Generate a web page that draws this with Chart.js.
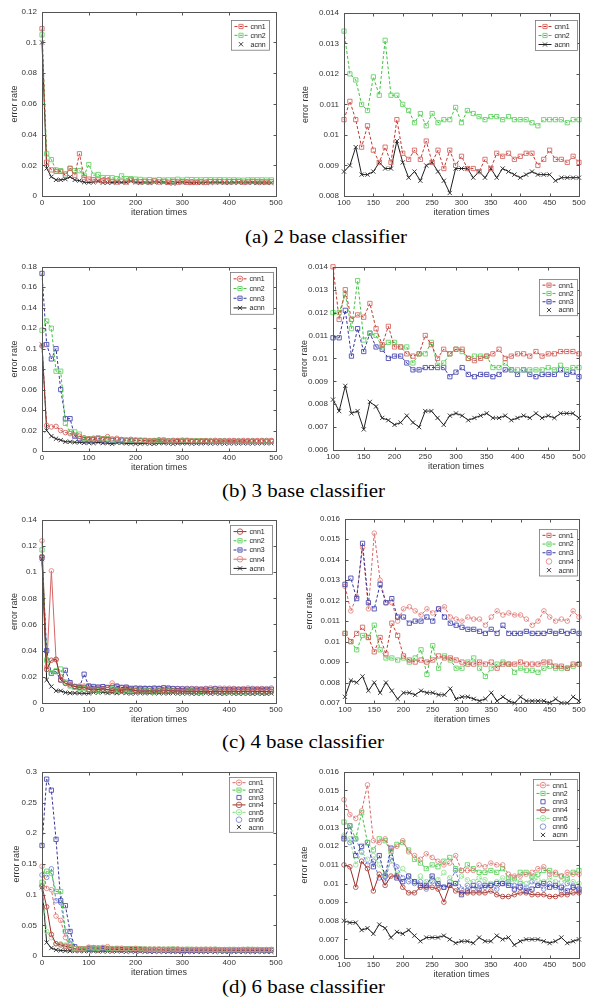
<!DOCTYPE html>
<html><head><meta charset="utf-8">
<script src="https://cdn.jsdelivr.net/npm/chart.js@4.4.0/dist/chart.umd.min.js"></script>
<style>
html,body{margin:0;padding:0;background:#fff;width:589px;height:1006px;overflow:hidden;position:relative;}
canvas{position:absolute;}
.cap{position:absolute;font-family:'Liberation Serif','Times New Roman',serif;font-size:19px;line-height:19px;white-space:nowrap;transform:scaleX(1.1);transform-origin:0 0;color:#000;}
</style></head><body>
<div class="cap" style="left:245px;top:227px">(a) 2 base classifier</div>
<div class="cap" style="left:222px;top:481px">(b) 3 base classifier</div>
<div class="cap" style="left:222px;top:732px">(c) 4 base classifier</div>
<div class="cap" style="left:222px;top:977px">(d) 6 base classifier</div>
<script>
// ---------- DATA ----------
const itersLeft = [0,10,20,30,40,50,60,70,80,90,100,110,120,130,140,150,160,170,180,190,200,210,220,230,240,250,260,270,280,290,300,310,320,330,340,350,360,370,380,390,400,410,420,430,440,450,460,470,480,490];
const itersRight = [100,110,120,130,140,150,160,170,180,190,200,210,220,230,240,250,260,270,280,290,300,310,320,330,340,350,360,370,380,390,400,410,420,430,440,450,460,470,480,490,500];

// (a) 2 base classifier — early iterations 0..140 (left plot)
const a_cnn1_early = [0.109,0.022,0.017,0.016,0.016,0.0135,0.018,0.0135,0.0275,0.012,0.011,0.0105,0.0105,0.010,0.0100];
const a_cnn2_early = [0.105,0.0275,0.0237,0.017,0.0165,0.0145,0.018,0.0165,0.0165,0.0135,0.0205,0.0135,0.014,0.012,0.012];
const a_acnn_early = [0.1,0.018,0.0125,0.0105,0.0105,0.011,0.0125,0.0105,0.010,0.009,0.0088,0.009,0.0096,0.0087,0.0087];
// (a) iterations 100..500 (right plot)
const a_cnn1 = [0.0105,0.0111,0.0105,0.0096,0.0103,0.0095,0.0091,0.0096,0.0091,0.0105,0.0094,0.0092,0.0095,0.0092,0.0098,0.0091,0.0095,0.0089,0.0095,0.0090,0.0093,0.0089,0.0089,0.0088,0.0092,0.0089,0.0094,0.0093,0.0094,0.0092,0.0093,0.0094,0.0094,0.0090,0.0092,0.0095,0.0092,0.0092,0.0091,0.0093,0.0091];
const a_cnn2 = [0.0134,0.0120,0.0118,0.0110,0.0108,0.0119,0.0113,0.0131,0.0113,0.0113,0.0110,0.0108,0.0104,0.0107,0.0103,0.0107,0.0104,0.0105,0.0105,0.0109,0.0104,0.0108,0.0107,0.0106,0.0105,0.0106,0.0106,0.0105,0.0106,0.0105,0.0105,0.0105,0.0104,0.0103,0.0105,0.0105,0.0105,0.0105,0.0104,0.0105,0.0105];
const a_acnn = [0.0088,0.0090,0.0096,0.0087,0.0087,0.0088,0.0091,0.0089,0.0089,0.0098,0.0091,0.0086,0.0088,0.0085,0.0090,0.0091,0.0088,0.0085,0.0081,0.0089,0.0089,0.0089,0.0086,0.0088,0.0086,0.0089,0.0086,0.0089,0.0088,0.0087,0.0086,0.0087,0.0088,0.0087,0.0087,0.0087,0.0085,0.0086,0.0086,0.0086,0.0086];

// (b) 3 base classifier
const b_cnn1_early = [0.1026,0.025,0.0235,0.024,0.020,0.018,0.017,0.0155,0.0145,0.013,0.012,0.0125,0.012,0.012,0.014];
const b_cnn2_early = [0.118,0.127,0.12,0.078,0.078,0.027,0.0187,0.0187,0.0165,0.012,0.012,0.012,0.013,0.012,0.012];
const b_cnn3_early = [0.1735,0.104,0.09,0.1,0.06,0.0316,0.0316,0.0145,0.012,0.011,0.011,0.011,0.012,0.011,0.011];
const b_acnn_early = [0.104,0.020,0.0145,0.012,0.0106,0.009,0.009,0.0085,0.0085,0.008,0.008,0.0078,0.0085,0.0077,0.0077];
const b_cnn1 = [0.0140,0.0117,0.0130,0.0117,0.0119,0.0118,0.0124,0.0113,0.0106,0.0114,0.0105,0.0105,0.0102,0.0101,0.0102,0.0110,0.0106,0.0100,0.0104,0.0102,0.0104,0.0104,0.0100,0.0099,0.0100,0.0101,0.0102,0.0104,0.0100,0.0101,0.0102,0.0102,0.0101,0.0103,0.0101,0.0102,0.0102,0.0103,0.0103,0.0103,0.0102];
const b_cnn2 = [0.0120,0.0120,0.0128,0.0113,0.0134,0.0108,0.0111,0.0110,0.0105,0.0107,0.0107,0.0105,0.0105,0.0098,0.0102,0.0102,0.0107,0.0097,0.0098,0.0102,0.0104,0.0103,0.0100,0.0101,0.0101,0.0101,0.0096,0.0096,0.0098,0.0095,0.0095,0.0095,0.0095,0.0095,0.0095,0.0096,0.0095,0.0097,0.0095,0.0096,0.0096];
const b_cnn3 = [0.0109,0.0109,0.0121,0.0101,0.0113,0.0103,0.0111,0.0105,0.0104,0.0100,0.0101,0.0101,0.0098,0.0095,0.0095,0.0096,0.0096,0.0096,0.0096,0.0092,0.0094,0.0096,0.0093,0.0092,0.0093,0.0093,0.0092,0.0093,0.0095,0.0095,0.0093,0.0095,0.0093,0.0092,0.0093,0.0093,0.0093,0.0095,0.0093,0.0094,0.0092];
const b_acnn = [0.0082,0.0077,0.0088,0.0076,0.0077,0.0069,0.0081,0.0079,0.0074,0.0073,0.0071,0.0072,0.0075,0.0072,0.0070,0.0077,0.0077,0.0074,0.0071,0.0075,0.0076,0.0075,0.0073,0.0074,0.0075,0.0076,0.0074,0.0074,0.0075,0.0073,0.0074,0.0075,0.0074,0.0076,0.0074,0.0075,0.0074,0.0076,0.0076,0.0076,0.0074];

// (c) 4 base classifier
const c_cnn1_early = [0.112,0.0256,0.0327,0.0334,0.0176,0.015,0.0138,0.0126,0.012,0.012,0.0104,0.0100,0.0104,0.0107,0.0102];
const c_cnn2_early = [0.117,0.0327,0.023,0.0246,0.026,0.016,0.013,0.012,0.011,0.011,0.0104,0.0100,0.0096,0.0103,0.0102];
const c_cnn3_early = [0.111,0.040,0.0226,0.024,0.0176,0.025,0.0156,0.0126,0.012,0.022,0.013,0.0126,0.0121,0.0125,0.0119];
const c_cnn4_early = [0.124,0.0276,0.101,0.033,0.020,0.015,0.015,0.0126,0.013,0.013,0.0127,0.0115,0.0121,0.0125,0.0116];
const c_acnn_early = [0.110,0.0176,0.0126,0.0093,0.0093,0.008,0.0076,0.0076,0.0075,0.0074,0.0073,0.0081,0.0080,0.0083,0.0076];
const c_cnn1 = [0.0104,0.0100,0.0104,0.0107,0.0102,0.0095,0.0102,0.0094,0.0109,0.0103,0.0093,0.0091,0.0090,0.0091,0.0090,0.0091,0.0093,0.0092,0.0092,0.0091,0.0090,0.0089,0.0089,0.0090,0.0089,0.0090,0.0087,0.0089,0.0089,0.0089,0.0090,0.0089,0.0089,0.0089,0.0090,0.0090,0.0088,0.0088,0.0087,0.0089,0.0089];
const c_cnn2 = [0.0104,0.0100,0.0096,0.0103,0.0102,0.0108,0.0096,0.0092,0.0092,0.0091,0.0092,0.0090,0.0092,0.0096,0.0084,0.0098,0.0087,0.0093,0.0091,0.0087,0.0087,0.0090,0.0092,0.0087,0.0083,0.0087,0.0089,0.0090,0.0089,0.0085,0.0087,0.0086,0.0086,0.0085,0.0087,0.0088,0.0087,0.0087,0.0087,0.0088,0.0089];
const c_cnn3 = [0.0128,0.0131,0.0121,0.0148,0.0119,0.0116,0.0128,0.0119,0.0121,0.0112,0.0112,0.0109,0.0110,0.0110,0.0112,0.0110,0.0116,0.0112,0.0109,0.0108,0.0107,0.0106,0.0106,0.0105,0.0104,0.0106,0.0104,0.0108,0.0104,0.0104,0.0104,0.0105,0.0104,0.0104,0.0104,0.0105,0.0104,0.0105,0.0104,0.0105,0.0104];
const c_cnn4 = [0.0127,0.0115,0.0122,0.0146,0.0116,0.0153,0.0130,0.0119,0.0119,0.0110,0.0116,0.0117,0.0115,0.0113,0.0116,0.0114,0.0116,0.0117,0.0112,0.0111,0.0110,0.0112,0.0111,0.0111,0.0108,0.0112,0.0115,0.0113,0.0114,0.0113,0.0113,0.0111,0.0108,0.0110,0.0115,0.0112,0.0110,0.0111,0.0110,0.0115,0.0112];
const c_acnn = [0.0073,0.0081,0.0080,0.0083,0.0076,0.0080,0.0075,0.0080,0.0076,0.0072,0.0075,0.0075,0.0074,0.0076,0.0075,0.0075,0.0074,0.0074,0.0077,0.0072,0.0073,0.0073,0.0072,0.0071,0.0072,0.0075,0.0071,0.0073,0.0071,0.0070,0.0073,0.0071,0.0071,0.0071,0.0071,0.0070,0.0072,0.0070,0.0070,0.0073,0.0071];

// (d) 6 base classifier
const d_cnn1_early = [0.146,0.11,0.108,0.065,0.058,0.03,0.015,0.012,0.012,0.012,0.0145,0.0137,0.0135,0.0139,0.0153];
const d_cnn2_early = [0.12,0.138,0.135,0.105,0.105,0.04,0.02,0.012,0.012,0.012,0.0133,0.0131,0.0124,0.0138,0.0122];
const d_cnn3_early = [0.18,0.288,0.27,0.19,0.09,0.082,0.04,0.015,0.012,0.012,0.0124,0.0131,0.0115,0.0120,0.0122];
const d_cnn4_early = [0.114,0.08,0.035,0.02,0.018,0.016,0.014,0.012,0.011,0.011,0.011,0.0109,0.0096,0.0112,0.0108];
const d_cnn5_early = [0.115,0.04,0.03,0.02,0.02,0.018,0.015,0.012,0.011,0.011,0.0126,0.0124,0.011,0.0117,0.0113];
const d_cnn6_early = [0.132,0.128,0.142,0.09,0.087,0.04,0.025,0.012,0.011,0.011,0.0125,0.0122,0.0124,0.0117,0.011];
const d_acnn_early = [0.112,0.022,0.013,0.01,0.009,0.0085,0.0082,0.008,0.008,0.008,0.0080,0.0079,0.0079,0.0075,0.0076];
const d_cnn1 = [0.0145,0.0137,0.0135,0.0139,0.0153,0.0123,0.0122,0.0124,0.0118,0.0120,0.0123,0.0117,0.0115,0.0113,0.0116,0.0114,0.0112,0.0110,0.0111,0.0115,0.0107,0.0107,0.0107,0.0110,0.0109,0.0111,0.0110,0.0110,0.0105,0.0104,0.0104,0.0105,0.0106,0.0108,0.0109,0.0105,0.0106,0.0104,0.0106,0.0105,0.0105];
const d_cnn2 = [0.0133,0.0131,0.0124,0.0138,0.0122,0.0118,0.0124,0.0123,0.0117,0.0121,0.0122,0.0118,0.0113,0.0111,0.0108,0.0110,0.0109,0.0112,0.0114,0.0108,0.0107,0.0110,0.0108,0.0106,0.0106,0.0107,0.0106,0.0108,0.0103,0.0103,0.0106,0.0106,0.0104,0.0105,0.0107,0.0107,0.0105,0.0104,0.0103,0.0106,0.0107];
const d_cnn3 = [0.0124,0.0131,0.0115,0.0120,0.0122,0.0109,0.0115,0.0104,0.0119,0.0103,0.0101,0.0104,0.0101,0.0099,0.0099,0.0104,0.0100,0.0098,0.0099,0.0100,0.0094,0.0096,0.0099,0.0097,0.0099,0.0099,0.0100,0.0100,0.0099,0.0097,0.0098,0.0096,0.0097,0.0099,0.0100,0.0098,0.0099,0.0098,0.0096,0.0098,0.0097];
const d_cnn4 = [0.0110,0.0109,0.0098,0.0112,0.0108,0.0096,0.0105,0.0099,0.0104,0.0104,0.0098,0.0095,0.0095,0.0098,0.0098,0.0098,0.0097,0.0090,0.0099,0.0096,0.0095,0.0095,0.0095,0.0095,0.0095,0.0096,0.0094,0.0093,0.0093,0.0094,0.0095,0.0095,0.0094,0.0094,0.0094,0.0093,0.0093,0.0094,0.0094,0.0095,0.0095];
const d_cnn5 = [0.0126,0.0124,0.0110,0.0117,0.0113,0.0115,0.0110,0.0105,0.0112,0.0105,0.0108,0.0104,0.0101,0.0104,0.0101,0.0103,0.0102,0.0106,0.0103,0.0100,0.0104,0.0102,0.0101,0.0103,0.0102,0.0100,0.0101,0.0103,0.0100,0.0102,0.0101,0.0100,0.0103,0.0102,0.0101,0.0103,0.0101,0.0101,0.0102,0.0101,0.0100];
const d_cnn6 = [0.0125,0.0122,0.0124,0.0117,0.0110,0.0112,0.0103,0.0101,0.0114,0.0109,0.0103,0.0101,0.0100,0.0101,0.0097,0.0101,0.0099,0.0098,0.0101,0.0107,0.0097,0.0099,0.0097,0.0100,0.0098,0.0099,0.0097,0.0100,0.0101,0.0099,0.0100,0.0098,0.0101,0.0099,0.0097,0.0100,0.0098,0.0096,0.0100,0.0099,0.0096];
const d_acnn = [0.0080,0.0079,0.0079,0.0075,0.0076,0.0073,0.0078,0.0076,0.0071,0.0074,0.0073,0.0075,0.0072,0.0069,0.0071,0.0071,0.0071,0.0072,0.0070,0.0068,0.0069,0.0069,0.0068,0.0071,0.0069,0.0069,0.0072,0.0070,0.0071,0.0067,0.0069,0.0070,0.0070,0.0070,0.0069,0.0068,0.0069,0.0071,0.0068,0.0069,0.0070];

// axis tick ranges
const yLeftA = [0, 0.12, 0.02],  yRightA = [0.008, 0.014, 0.001];
const yLeftB = [0, 0.18, 0.02],  yRightB = [0.006, 0.014, 0.001];
const yLeftC = [0, 0.14, 0.02],  yRightC = [0.007, 0.016, 0.001];
const yLeftD = [0, 0.3, 0.05],   yRightD = [0.006, 0.016, 0.001];
const xLeftTicks = [0, 500, 100], xRightTicks = [100, 500, 50];

// ---------- STYLES ----------
const RED  = {line:'#c0392f', mark:'#d86a66'};
const PINK = {line:'#d86464', mark:'#e58a86'};
const DRED = {line:'#9e2b26', mark:'#b6504a'};
const GRN  = {line:'#3fc23f', mark:'#66d466'};
const LGRN = {line:'#7fdc7f', mark:'#95e495'};
const BLU  = {line:'#34349e', mark:'#4d4db6'};
const LBLU = {line:'#6478d0', mark:'#7d8cd8'};
const BLK  = {line:'#1e1e1e', mark:'#2a2a2a'};
function sty(c, shape, dash, legendLine){ return Object.assign({shape, dash, legendLine}, c); }
const D = [3,2];

// ---------- HELPERS ----------
function pts(xs, ys){ return ys.map((v,i)=>({x:xs[i], y:v})); }
function leftSeries(early, late){ return early.concat(late.slice(5, 40)); }

function drawMark(ctx, shape, x, y, r){
  ctx.beginPath();
  if(shape==='circle'){ ctx.arc(x,y,r,0,Math.PI*2); }
  else if(shape==='rect'){ const s=r*0.75; ctx.rect(x-s,y-s,2*s,2*s); }
  else { const s=r*0.75; ctx.moveTo(x-s,y-s); ctx.lineTo(x+s,y+s); ctx.moveTo(x+s,y-s); ctx.lineTo(x-s,y+s); }
  ctx.stroke();
}

const framePlugin = {
  id:'framePlugin',
  afterDraw(chart){
    const {ctx, chartArea:a} = chart;
    const xs = chart.scales.x, ys = chart.scales.y;
    ctx.save();
    ctx.strokeStyle = '#555'; ctx.lineWidth = 1; ctx.setLineDash([]);
    const L=Math.round(a.left)+0.5, T=Math.round(a.top)+0.5, R=Math.round(a.right)+0.5, B=Math.round(a.bottom)+0.5;
    ctx.strokeRect(L, T, R-L, B-T);
    ctx.beginPath();
    xs.ticks.forEach(t=>{ const p=Math.round(xs.getPixelForValue(t.value))+0.5; ctx.moveTo(p,B); ctx.lineTo(p,B-3); ctx.moveTo(p,T); ctx.lineTo(p,T+3); });
    ys.ticks.forEach(t=>{ const p=Math.round(ys.getPixelForValue(t.value))+0.5; ctx.moveTo(L,p); ctx.lineTo(L+3,p); ctx.moveTo(R,p); ctx.lineTo(R-3,p); });
    ctx.stroke();
    // legend box
    const lg = chart.options.plugins.framePlugin;
    const n = chart.data.datasets.length;
    const bw = lg.w, bh = lg.rh*n + 3;
    const bx = Math.round(a.right - lg.r - bw)+0.5, by = Math.round(a.top + lg.t)+0.5;
    ctx.fillStyle = '#fff'; ctx.fillRect(bx, by, bw, bh);
    ctx.strokeStyle = '#777'; ctx.lineWidth = 0.8; ctx.strokeRect(bx, by, bw, bh);
    ctx.font = '7px "Liberation Sans", Arial, sans-serif';
    ctx.textBaseline = 'middle'; ctx.textAlign = 'left';
    chart.data.datasets.forEach((ds,i)=>{
      const st = ds._sty;
      const y = by + 1.5 + lg.rh*(i+0.5);
      const x0 = bx + 3, x1 = bx + 16, xm = (x0+x1)/2;
      ctx.lineWidth = 1;
      if(st.legendLine){
        ctx.strokeStyle = st.line; ctx.setLineDash(st.dash);
        ctx.beginPath(); ctx.moveTo(x0,y); ctx.lineTo(x1,y); ctx.stroke();
      }
      ctx.setLineDash([]); ctx.strokeStyle = st.mark; ctx.lineWidth = 0.9;
      drawMark(ctx, st.shape, xm, y, 2.8);
      ctx.fillStyle = '#222';
      ctx.fillText(ds.label, x1 + 3, y + 0.5);
    });
    ctx.restore();
  }
};

function fmt(v){ return String(parseFloat(Number(v).toFixed(4))); }

function makeChart(p){
  const cv = document.createElement('canvas');
  const left = Math.round(p.titleC - 8);
  const top = Math.round(p.plot[1]) - 8;
  const width = Math.round(p.plot[2]) + 10 - left;
  const height = Math.round(p.plot[3]) + 24 - top;
  cv.width = width; cv.height = height;
  cv.style.left = left+'px'; cv.style.top = top+'px';
  cv.style.width = width+'px'; cv.style.height = height+'px';
  document.body.appendChild(cv);
  const yW = Math.round(p.plot[0]) - left;
  const datasets = p.series.map(s=>({
    label: s.label, data: s.data, _sty: s.style,
    borderColor: s.style.line, borderWidth: 1, borderDash: s.style.dash,
    pointStyle: s.style.shape,
    pointRadius: s.style.shape==='circle' ? 2.3 : 3,
    pointBorderColor: s.style.mark, pointBackgroundColor: 'rgba(0,0,0,0)',
    pointBorderWidth: 0.9, tension: 0, fill: false, clip: false
  }));
  return new Chart(cv, {
    type:'line',
    data:{datasets},
    options:{
      responsive:false, animation:false, devicePixelRatio:1,
      layout:{padding:{left:0, top:8, right:10, bottom:0}},
      plugins:{legend:{display:false}, tooltip:{enabled:false}, framePlugin:p.legend},
      scales:{
        x:{type:'linear', min:p.x[0], max:p.x[1],
           grid:{display:false, drawTicks:false}, border:{display:false},
           ticks:{stepSize:p.x[2], autoSkip:false, maxRotation:0, padding:2, color:'#333', font:{size:8}, callback:fmt},
           title:{display:true, text:'iteration times', color:'#333', font:{size:9}, padding:{top:0,bottom:2.1}},
           afterFit(s){ s.height = 24; }},
        y:{type:'linear', min:p.y[0], max:p.y[1],
           grid:{display:false, drawTicks:false}, border:{display:false},
           ticks:{stepSize:p.y[2], autoSkip:false, padding:5, color:'#333', font:{size:8}, callback:fmt},
           title:{display:true, text:'error rate', color:'#333', font:{size:9}, padding:{top:p.titleC-left-5.4, bottom:0}},
           afterFit(s){ s.width = yW; }}
      }
    },
    plugins:[framePlugin]
  });
}

Chart.defaults.font.family = '"Liberation Sans", Arial, sans-serif';

const panels = [
  {plot:[42,10,276,196], titleC:15, x:xLeftTicks, y:yLeftA, legend:{r:7,t:8,rh:8.9,w:38}, series:[
    {label:'cnn1', data:pts(itersLeft, leftSeries(a_cnn1_early, a_cnn1)), style:sty(RED,'rect',D,true)},
    {label:'cnn2', data:pts(itersLeft, leftSeries(a_cnn2_early, a_cnn2)), style:sty(GRN,'rect',D,true)},
    {label:'acnn', data:pts(itersLeft, leftSeries(a_acnn_early, a_acnn)), style:sty(BLK,'crossRot',[],false)}]},
  {plot:[344,10.7,579,196], titleC:305.7, x:xRightTicks, y:yRightA, legend:{r:2,t:7,rh:9,w:42}, series:[
    {label:'cnn1', data:pts(itersRight, a_cnn1), style:sty(RED,'rect',D,true)},
    {label:'cnn2', data:pts(itersRight, a_cnn2), style:sty(GRN,'rect',D,true)},
    {label:'acnn', data:pts(itersRight, a_acnn), style:sty(BLK,'crossRot',[],true)}]},
  {plot:[42,265,276,451], titleC:15, x:xLeftTicks, y:yLeftB, legend:{r:3.3,t:5,rh:9.7,w:43}, series:[
    {label:'cnn1', data:pts(itersLeft, leftSeries(b_cnn1_early, b_cnn1)), style:sty(RED,'circle',D,true)},
    {label:'cnn2', data:pts(itersLeft, leftSeries(b_cnn2_early, b_cnn2)), style:sty(GRN,'rect',D,true)},
    {label:'cnn3', data:pts(itersLeft, leftSeries(b_cnn3_early, b_cnn3)), style:sty(BLU,'rect',D,true)},
    {label:'acnn', data:pts(itersLeft, leftSeries(b_acnn_early, b_acnn)), style:sty(BLK,'crossRot',[],true)}]},
  {plot:[333,265,579,450], titleC:305, x:xRightTicks, y:yRightB, legend:{r:2,t:11.7,rh:8.3,w:38}, series:[
    {label:'cnn1', data:pts(itersRight, b_cnn1), style:sty(RED,'rect',D,true)},
    {label:'cnn2', data:pts(itersRight, b_cnn2), style:sty(GRN,'rect',D,true)},
    {label:'cnn3', data:pts(itersRight, b_cnn3), style:sty(BLU,'rect',D,true)},
    {label:'acnn', data:pts(itersRight, b_acnn), style:sty(BLK,'crossRot',[],false)}]},
  {plot:[42,517.7,276,703], titleC:15, x:xLeftTicks, y:yLeftC, legend:{r:4.3,t:5,rh:9.2,w:42}, series:[
    {label:'cnn1', data:pts(itersLeft, leftSeries(c_cnn1_early, c_cnn1)), style:sty(DRED,'circle',[],true)},
    {label:'cnn2', data:pts(itersLeft, leftSeries(c_cnn2_early, c_cnn2)), style:sty(GRN,'rect',D,true)},
    {label:'cnn3', data:pts(itersLeft, leftSeries(c_cnn3_early, c_cnn3)), style:sty(BLU,'rect',D,true)},
    {label:'cnn4', data:pts(itersLeft, leftSeries(c_cnn4_early, c_cnn4)), style:sty(PINK,'circle',[],true)},
    {label:'acnn', data:pts(itersLeft, leftSeries(c_acnn_early, c_acnn)), style:sty(BLK,'crossRot',[],true)}]},
  {plot:[345,516.7,579,702.7], titleC:310, x:xRightTicks, y:yRightC, legend:{r:2,t:10,rh:8.7,w:38}, series:[
    {label:'cnn1', data:pts(itersRight, c_cnn1), style:sty(RED,'rect',D,true)},
    {label:'cnn2', data:pts(itersRight, c_cnn2), style:sty(GRN,'rect',D,true)},
    {label:'cnn3', data:pts(itersRight, c_cnn3), style:sty(BLU,'rect',D,true)},
    {label:'cnn4', data:pts(itersRight, c_cnn4), style:sty(PINK,'circle',D,false)},
    {label:'acnn', data:pts(itersRight, c_acnn), style:sty(BLK,'crossRot',[],false)}]},
  {plot:[42,770,276,956], titleC:16.5, x:xLeftTicks, y:yLeftD, legend:{r:3.3,t:5,rh:7.4,w:44}, series:[
    {label:'cnn1', data:pts(itersLeft, leftSeries(d_cnn1_early, d_cnn1)), style:sty(PINK,'circle',D,true)},
    {label:'cnn2', data:pts(itersLeft, leftSeries(d_cnn2_early, d_cnn2)), style:sty(GRN,'rect',D,true)},
    {label:'cnn3', data:pts(itersLeft, leftSeries(d_cnn3_early, d_cnn3)), style:sty(BLU,'rect',D,false)},
    {label:'cnn4', data:pts(itersLeft, leftSeries(d_cnn4_early, d_cnn4)), style:sty(DRED,'circle',[],true)},
    {label:'cnn5', data:pts(itersLeft, leftSeries(d_cnn5_early, d_cnn5)), style:sty(LGRN,'circle',D,true)},
    {label:'cnn6', data:pts(itersLeft, leftSeries(d_cnn6_early, d_cnn6)), style:sty(LBLU,'circle',D,false)},
    {label:'acnn', data:pts(itersLeft, leftSeries(d_acnn_early, d_acnn)), style:sty(BLK,'crossRot',[],false)}]},
  {plot:[344,770,579,957.7], titleC:305, x:xRightTicks, y:yRightD, legend:{r:2,t:6.7,rh:8.3,w:44}, series:[
    {label:'cnn1', data:pts(itersRight, d_cnn1), style:sty(PINK,'circle',D,true)},
    {label:'cnn2', data:pts(itersRight, d_cnn2), style:sty(GRN,'rect',D,true)},
    {label:'cnn3', data:pts(itersRight, d_cnn3), style:sty(BLU,'rect',D,false)},
    {label:'cnn4', data:pts(itersRight, d_cnn4), style:sty(DRED,'circle',[],true)},
    {label:'cnn5', data:pts(itersRight, d_cnn5), style:sty(LGRN,'circle',D,true)},
    {label:'cnn6', data:pts(itersRight, d_cnn6), style:sty(LBLU,'circle',D,false)},
    {label:'acnn', data:pts(itersRight, d_acnn), style:sty(BLK,'crossRot',[],false)}]}
];
panels.forEach(makeChart);
</script>
</body></html>
